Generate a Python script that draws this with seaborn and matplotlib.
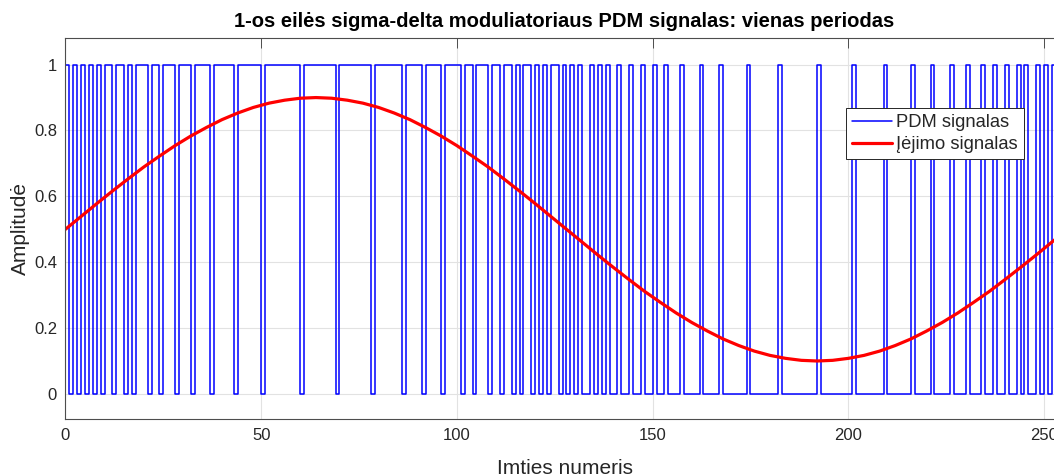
import numpy as np
import pandas as pd
import seaborn as sns
import matplotlib
matplotlib.use("Agg")
import matplotlib.pyplot as plt

# Sample numbers of one period
sample_idx = list(range(256))

# 1st-order sigma-delta output bits, 32 samples per row
pdm_rows = [
    "10101010101101101011101101110111",
    "01111011111011111101111111110111",
    "11111011111111011111110111101111",
    "01111011011101101101011010101101",
    "01010010101001001001001001000100",
    "00100001000000100000001000000000",
    "10000000010000000100000010000100",
    "00100010001001001001010010101010",
]
pdm_bits = [int(c) for row in pdm_rows for c in row]

# Input signal, every 4th sample plus the last one
input_idx = list(range(0, 256, 4)) + [255]
input_amp = [0.500, 0.539, 0.578, 0.616, 0.653, 0.689, 0.722, 0.754, 0.783, 0.809,
             0.833, 0.853, 0.870, 0.883, 0.892, 0.898, 0.900,
             0.898, 0.892, 0.883, 0.870, 0.853, 0.833, 0.809, 0.783, 0.754,
             0.722, 0.689, 0.653, 0.616, 0.578, 0.539, 0.500,
             0.461, 0.422, 0.384, 0.347, 0.311, 0.278, 0.246, 0.217, 0.191,
             0.167, 0.147, 0.130, 0.117, 0.108, 0.102, 0.100,
             0.102, 0.108, 0.117, 0.130, 0.147, 0.167, 0.191, 0.217, 0.246,
             0.278, 0.311, 0.347, 0.384, 0.422, 0.461, 0.490]

x_ticks = [0, 50, 100, 150, 200, 250]
y_ticks = [0, 0.2, 0.4, 0.6, 0.8, 1.0]
y_tick_labels = ["0", "0.2", "0.4", "0.6", "0.8", "1"]

sns.set_theme(style="white")
plt.rcParams["font.family"] = ["Liberation Sans", "DejaVu Sans"]

INK = "#262626"
fig = plt.figure(figsize=(10.54, 4.75), dpi=100)
ax = fig.add_axes([0.0621, 0.1173, 0.9470, 0.8021])

sns.lineplot(x=sample_idx, y=pdm_bits, drawstyle="steps-post", color="blue", lw=1.1,
             estimator=None, sort=False, label="PDM signalas", ax=ax)
sns.lineplot(x=input_idx, y=input_amp, color="red", lw=2.3,
             estimator=None, sort=False, label="Įėjimo signalas", ax=ax)

ax.set_xlim(0, 255)
ax.set_ylim(-0.077, 1.08)
ax.set_xticks(x_ticks)
ax.set_yticks(y_ticks)
ax.set_yticklabels(y_tick_labels)
ax.grid(True, color="#e2e2e2", lw=0.8)
ax.set_axisbelow(True)
for s in ax.spines.values():
    s.set_color("#4d4d4d")
    s.set_linewidth(0.8)
ax.tick_params(direction="in", top=True, right=True, length=7, width=0.7,
               color="#4d4d4d", labelcolor=INK, labelsize=12, pad=6)

ax.set_title("1-os eilės sigma-delta moduliatoriaus PDM signalas: vienas periodas",
             fontsize=14.5, fontweight="bold", color="black", pad=8)
ax.set_xlabel("Imties numeris", fontsize=15, color=INK)
ax.set_ylabel("Amplitudė", fontsize=15, color=INK)
ax.xaxis.set_label_coords(0.5, -0.104)
ax.yaxis.set_label_coords(-0.036, 0.5)

leg = ax.legend(loc="upper right", bbox_to_anchor=(0.9603, 0.817), fontsize=13.2,
                frameon=True, fancybox=False, shadow=False, framealpha=1,
                edgecolor=INK, handlelength=2.2, handletextpad=0.2,
                labelspacing=0.25, borderpad=0.35, borderaxespad=0)
leg.get_frame().set_linewidth(0.7)

fig.savefig("out.png", dpi=100)
